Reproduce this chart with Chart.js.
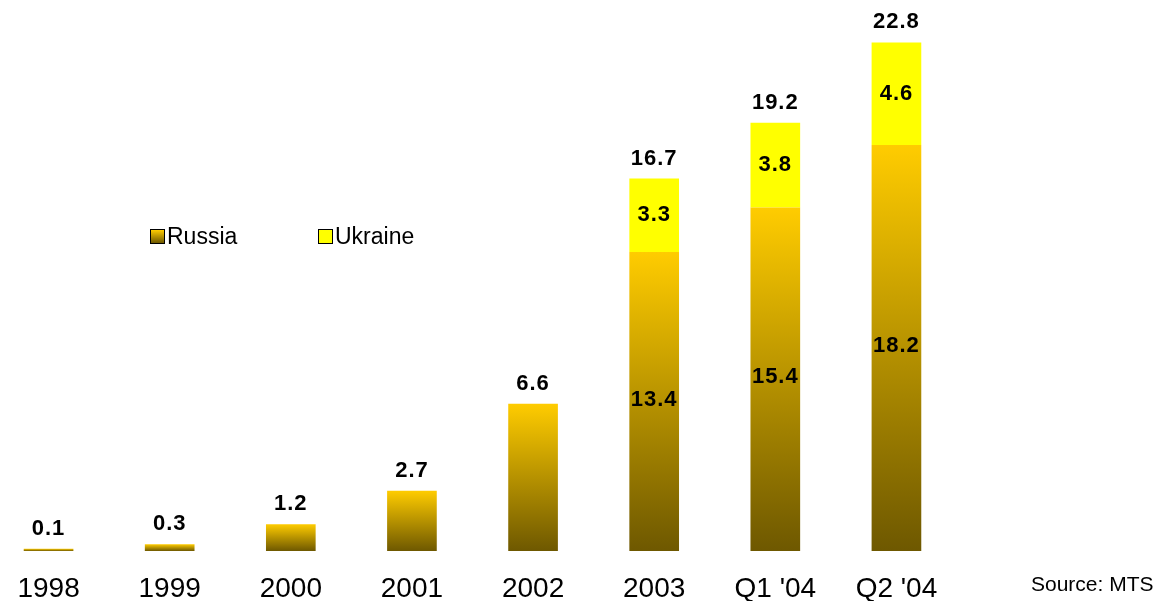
<!DOCTYPE html>
<html>
<head>
<meta charset="utf-8">
<script src="https://cdn.jsdelivr.net/npm/chart.js@4/dist/chart.umd.min.js"></script>
<style>
  html, body { margin: 0; padding: 0; background: #fff; overflow: hidden; }
  #wrap { position: relative; width: 1155px; height: 601px; overflow: hidden; font-family: "Liberation Sans", Arial, sans-serif; }
  #chart { position: absolute; left: -12px; top: 0; }
  .legend { position: absolute; top: 223px; font-size: 23px; color: #000; display: flex; align-items: center; }
  .legend .box { width: 13px; height: 13px; border: 1.5px solid #000; margin-right: 2px; }
  #source { position: absolute; left: 1031px; top: 572px; font-size: 21px; color: #000; }
</style>
</head>
<body>
<div id="wrap">
  <canvas id="chart" width="1167" height="627"></canvas>
  <div class="legend" style="left:150px"><span class="box" style="background:linear-gradient(#ffcc00,#6e5800)"></span>Russia</div>
  <div class="legend" style="left:318px"><span class="box" style="background:#ffff00"></span>Ukraine</div>
  <div id="source">Source: MTS</div>
</div>
<script>
const categories = ['1998', '1999', '2000', '2001', '2002', '2003', "Q1 '04", "Q2 '04"];
const russia = [0.1, 0.3, 1.2, 2.7, 6.6, 13.4, 15.4, 18.2];
const ukraine = [null, null, null, null, null, 3.3, 3.8, 4.6];
const totals = [0.1, 0.3, 1.2, 2.7, 6.6, 16.7, 19.2, 22.8];

// gradient runs over each bar, gold at the top to dark olive at the base
function russiaFill(ctx) {
  const chart = ctx.chart;
  const y = chart.scales.y;
  if (!chart.chartArea || !y || ctx.type !== 'data') return '#c9a000';
  const top = y.getPixelForValue(russia[ctx.dataIndex]);
  const base = y.getPixelForValue(0);
  if (!isFinite(top) || !isFinite(base) || base - top < 1) return '#e0b800';
  const g = chart.ctx.createLinearGradient(0, top, 0, base);
  g.addColorStop(0, '#ffcc00');
  g.addColorStop(1, '#6e5800');
  return g;
}

const labelPlugin = {
  id: 'barLabels',
  afterDatasetsDraw(chart) {
    const ctx = chart.ctx;
    ctx.save();
    ctx.fillStyle = '#000';
    ctx.font = 'bold 22px "Liberation Sans", Arial, sans-serif';
    ctx.letterSpacing = '1px';
    ctx.textAlign = 'center';
    ctx.textBaseline = 'middle';
    const rMeta = chart.getDatasetMeta(0);
    const uMeta = chart.getDatasetMeta(1);
    categories.forEach((c, i) => {
      const rBar = rMeta.data[i];
      let topY = rBar.y;
      if (ukraine[i] != null) {
        const uBar = uMeta.data[i];
        ctx.fillText(russia[i].toFixed(1), rBar.x, (rBar.y + rBar.base) / 2 - 2);
        ctx.fillText(ukraine[i].toFixed(1), uBar.x, (uBar.y + uBar.base) / 2);
        topY = uBar.y;
      }
      ctx.fillText(totals[i].toFixed(1), rBar.x, topY - 20);
    });
    ctx.restore();
  }
};

new Chart(document.getElementById('chart'), {
  type: 'bar',
  data: {
    labels: categories,
    datasets: [
      { label: 'Russia', data: russia, backgroundColor: russiaFill },
      { label: 'Ukraine', data: ukraine, backgroundColor: '#ffff00' }
    ]
  },
  options: {
    responsive: false,
    animation: false,
    layout: { padding: { left: 0, right: 198, top: 0, bottom: 0 } },
    datasets: { bar: { categoryPercentage: 1, barPercentage: 0.41 } },
    plugins: { legend: { display: false }, tooltip: { enabled: false } },
    scales: {
      x: {
        stacked: true,
        grid: { display: false, drawTicks: false },
        border: { display: false },
        ticks: {
          color: '#000',
          padding: 24,
          font: { family: '"Liberation Sans", Arial, sans-serif', size: 28, lineHeight: 1 }
        }
      },
      y: {
        stacked: true,
        display: false,
        min: 0,
        max: 24.7
      }
    }
  },
  plugins: [labelPlugin]
});
</script>
</body>
</html>
